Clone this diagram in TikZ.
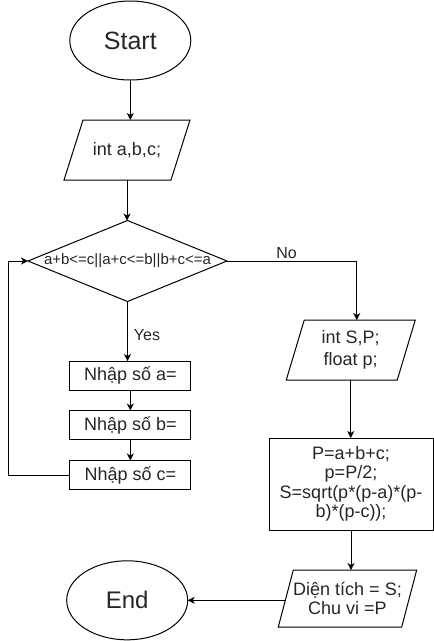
\documentclass[tikz,border=0pt]{standalone}
\usepackage{fontspec}
\setmainfont{Liberation Sans}
\usetikzlibrary{shapes.geometric,arrows.meta}
\begin{document}
\begin{tikzpicture}[x=1pt,y=-1pt,
  line/.style={line width=1pt, draw=black},
  arr/.style={line, -{Stealth[length=7pt,width=7pt,inset=2pt]}},
  txt/.style={inner sep=0pt, outer sep=0pt, align=center, text=black!85, font=\fontsize{18}{21}\selectfont},
  lbl/.style={inner sep=0pt, outer sep=0pt, text=black!85, font=\fontsize{16}{18}\selectfont},
  term/.style={ellipse, draw, line width=1pt, inner sep=0pt, outer sep=0pt, text=black!85},
  box/.style={rectangle, draw, line width=1pt, inner sep=0pt, outer sep=0pt, align=center, text=black!85, font=\fontsize{18}{19.5}\selectfont}
]
\useasboundingbox (0,0) rectangle (434,641);

% Start
\node[term, minimum width=121, minimum height=79, font=\fontsize{25}{30}\selectfont] (start) at (130.3,40.5) {Start};

% int a,b,c
\node[txt, minimum width=107, minimum height=60] (in1) at (127,150) {int a,b,c;};
\draw[line] ([xshift=9.5]in1.north west) -- ([xshift=9.5]in1.north east) -- ([xshift=-9.5]in1.south east) -- ([xshift=-9.5]in1.south west) -- cycle;

% decision
\node[diamond, draw, line width=1pt, minimum width=199, minimum height=81, inner sep=0pt, outer sep=0pt] (dia) at (127.5,261) {};
\node[txt, font=\fontsize{15}{18}\selectfont] (diatxt) at (dia.center) {a+b<=c||a+c<=b||b+c<=a};

% input boxes
\node[box, minimum width=120.7, minimum height=29] (na) at (130.3,375.5) {Nhập số a=};
\node[box, minimum width=120.7, minimum height=29] (nb) at (130.3,425) {Nhập số b=};
\node[box, minimum width=120.7, minimum height=29] (nc) at (130.3,475) {Nhập số c=};

% int S,P
\node[txt, font=\fontsize{18}{22}\selectfont, minimum width=111, minimum height=60] (inSP) at (350.75,350) {int S,P;\\float p;};
\draw[line] ([xshift=9]inSP.north west) -- ([xshift=9]inSP.north east) -- ([xshift=-9]inSP.south east) -- ([xshift=-9]inSP.south west) -- cycle;

% calculation
\node[box, minimum width=164, minimum height=92] (calc) at (351,484) {P=a+b+c;\\p=P/2;\\S=sqrt(p*(p-a)*(p-\\b)*(p-c));};

% output
\node[txt, font=\fontsize{18}{19}\selectfont, minimum width=123.4, minimum height=57] (out) at (347.5,598.5) {Diện tích = S;\\Chu vi =P};
\draw[line] ([xshift=7.5]out.north west) -- ([xshift=7.5]out.north east) -- ([xshift=-7.5]out.south east) -- ([xshift=-7.5]out.south west) -- cycle;

% End
\node[term, minimum width=121, minimum height=79, font=\fontsize{24}{29}\selectfont] (end) at (127.2,600.3) {End};

% connectors
\draw[arr] (start.south) -- (start.south |- in1.north);
\draw[arr] (in1.south) -- (in1.south |- dia.north);
\draw[arr] (dia.south) -- (dia.south |- na.north);
\draw[arr] (na.south) -- (nb.north);
\draw[arr] (nb.south) -- (nc.north);
\coordinate (lp) at (8,475);
\draw[arr] (nc.west) -- (nc.west -| lp) |- (dia.west);
\draw[arr] (dia.east) -| ([xshift=6]inSP.north);
\draw[arr] (inSP.south) -- (inSP.south |- calc.north);
\draw[arr] (calc.south) -- (calc.south |- out.north);
\draw[arr] (end.east -| out.west) -- (end.east);

% labels
\node[lbl] (no) at (286.5,253) {No};
\node[lbl] (yes) at (147,335) {Yes};
\end{tikzpicture}
\end{document}
